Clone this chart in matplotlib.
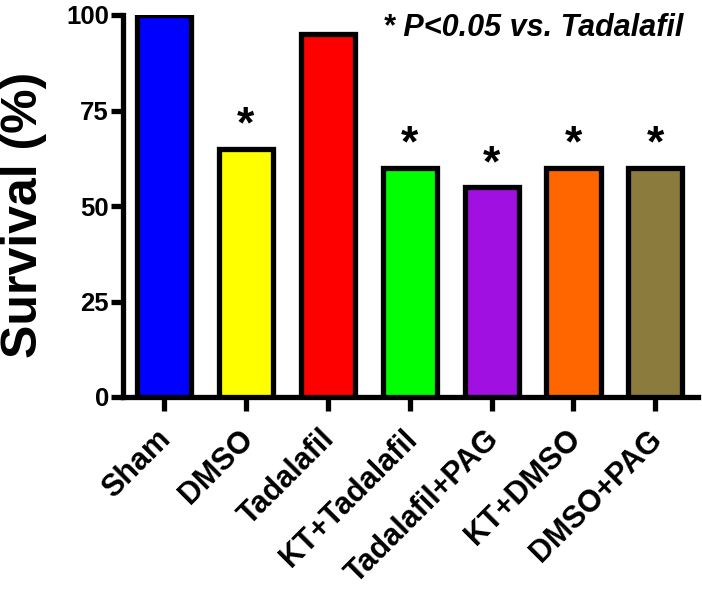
import matplotlib
matplotlib.use("Agg")
import matplotlib.pyplot as plt
import matplotlib.transforms as mtransforms

categories = ["Sham", "DMSO", "Tadalafil", "KT+Tadalafil", "Tadalafil+PAG", "KT+DMSO", "DMSO+PAG"]
survival = [100, 65, 95, 60, 55, 60, 60]
significant = [False, True, False, True, True, True, True]
colors = ["#0000FF", "#FFFF00", "#FF0000", "#00FF00", "#A010E0", "#FF6600", "#8B7B3C"]
yticks = [0, 25, 50, 75, 100]

plt.rcParams['font.family'] = ['Liberation Sans', 'DejaVu Sans']
plt.rcParams['font.weight'] = 'bold'

fig = plt.figure(figsize=(7.02, 5.90), dpi=100)
ax = fig.add_axes([123/702, 1 - 397/590, (698 - 123)/702, (397 - 15)/590])

x = list(range(len(categories)))
ax.bar(x, survival, width=0.66, color=colors, edgecolor="black", linewidth=3.8, zorder=3)
for xi, v, s in zip(x, survival, significant):
    if s:
        ax.text(xi, v + 0.5, "*", ha="center", va="bottom", fontsize=32, fontweight="bold")

ax.set_xlim(-0.5, 6.52)
ax.set_ylim(0, 100)
ax.set_yticks(yticks)
ax.set_yticklabels([str(t) for t in yticks], fontsize=18.5, fontweight="bold")
ax.set_xticks(x)
ax.set_xticklabels(categories, rotation=45, ha="right", rotation_mode="anchor",
                   fontsize=22, fontweight="bold")
ax.tick_params(axis="y", length=9, width=3.8, pad=1)
ax.tick_params(axis="x", length=10, width=3.8, pad=6)
offset = mtransforms.ScaledTranslation(-0.08, -0.05, fig.dpi_scale_trans)
for lbl in ax.get_xticklabels():
    lbl.set_transform(lbl.get_transform() + offset)
for side in ["top", "right"]:
    ax.spines[side].set_visible(False)
for side in ["left", "bottom"]:
    ax.spines[side].set_linewidth(3.8)
ax.set_ylabel("Survival (%)", fontsize=36, fontweight="bold")
ax.yaxis.label.set_verticalalignment("center")
ax.yaxis.set_label_coords(-0.172, 0.478)

ax.text(0.975, 1.005, "* P<0.05 vs. Tadalafil", transform=ax.transAxes, ha="right", va="top",
        fontsize=22, fontweight="bold", fontstyle="italic", clip_on=False)

fig.savefig("out.png", dpi=100)
